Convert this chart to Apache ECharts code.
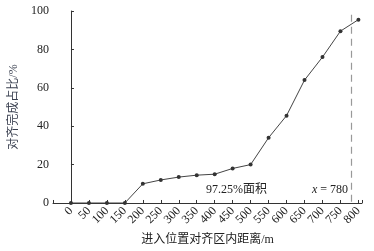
<!DOCTYPE html>
<html>
<head>
<meta charset="utf-8">
<script src="https://cdn.jsdelivr.net/npm/echarts@6/dist/echarts.min.js"></script>
<style>html,body{margin:0;padding:0;background:#fff;}#c{width:374px;height:251px;}</style>
</head>
<body>
<div id="c"></div>
<script>
var distances = [0, 50, 100, 150, 200, 250, 300, 350, 400, 450, 500, 550, 600, 650, 700, 750, 800];
var completionPct = [0, 0, 0, 0, 10, 12, 13.5, 14.5, 15, 18, 20, 34, 45.5, 64, 76, 89.5, 95.5];
var yTicks = [0, 20, 40, 60, 80, 100];
var markX = 780;
var areaLabel = '97.25%面积';
var xTitle = '进入位置对齐区内距离/m';
var yTitle = '对齐完成占比/%';

var serif = '"Liberation Serif", "DejaVu Serif", serif';
var cjk = '"Liberation Serif", "Noto Sans CJK SC", serif';

var chart = echarts.init(document.getElementById('c'), null, {renderer: 'canvas'});
chart.setOption({
  animation: false,
  backgroundColor: '#fff',
  grid: {left: 50, right: 12, top: 11, bottom: 45, containLabel: false},
  xAxis: {
    type: 'value',
    min: -50, max: 810, interval: 50,
    name: xTitle,
    nameLocation: 'middle',
    nameGap: 31,
    nameTextStyle: {fontFamily: cjk, fontSize: 12, color: '#222'},
    axisLine: {show: true, lineStyle: {color: '#333', width: 1}},
    axisTick: {show: true, inside: true, length: 3, lineStyle: {color: '#333'}},
    splitLine: {show: false},
    axisLabel: {
      rotate: 45, fontFamily: serif, fontSize: 12, color: '#222', margin: 6,
      showMinLabel: true, showMaxLabel: true,
      formatter: function (v) { return distances.indexOf(v) >= 0 ? String(v) : ''; }
    }
  },
  yAxis: {
    type: 'value',
    min: yTicks[0], max: yTicks[yTicks.length - 1], interval: 20,
    name: yTitle,
    nameLocation: 'middle',
    nameGap: 33,
    nameRotate: 90,
    nameTextStyle: {fontFamily: cjk, fontSize: 12, color: '#3a4050'},
    axisLine: {show: true, lineStyle: {color: '#333', width: 1}},
    axisTick: {show: true, inside: true, length: 3, lineStyle: {color: '#333'}},
    splitLine: {show: false},
    axisLabel: {fontFamily: serif, fontSize: 12, color: '#222', margin: 4}
  },
  series: [{
    type: 'line',
    data: distances.map(function (d, i) { return [d, completionPct[i]]; }),
    symbol: 'circle',
    symbolSize: 4,
    lineStyle: {color: '#444', width: 1},
    itemStyle: {color: '#333'},
    markLine: {
      silent: true,
      symbol: ['none', 'none'],
      label: {show: false},
      lineStyle: {color: '#999', type: [7, 5], width: 1.2},
      data: [[{coord: [markX, 98]}, {coord: [markX, 0]}]]
    }
  }],
  graphic: [
    {type: 'text', left: 206, top: 184, style: {text: areaLabel, font: '12px ' + cjk, fill: '#222'}},
    {type: 'text', right: 26, top: 184, style: {
      text: '{i|x} = ' + markX,
      font: '12px ' + serif, fill: '#222',
      rich: {i: {fontStyle: 'italic', fontFamily: serif, fontSize: 12}}
    }}
  ]
});
</script>
</body>
</html>
